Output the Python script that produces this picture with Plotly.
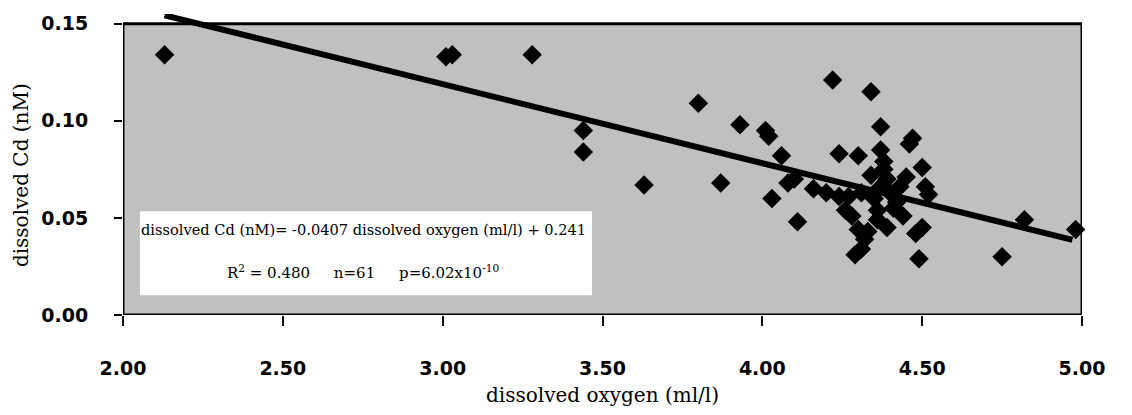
import plotly.graph_objects as go

# Dissolved oxygen (ml/l) and dissolved Cd (nM) for each sample
oxygen = [2.13, 3.01, 3.03, 3.28, 3.44, 3.44, 3.63, 3.80, 3.87, 3.93,
          4.01, 4.02, 4.03, 4.06, 4.08, 4.10, 4.11, 4.16, 4.20, 4.22,
          4.24, 4.30, 4.24, 4.27, 4.26, 4.28, 4.30, 4.29, 4.31, 4.34,
          4.37, 4.37, 4.33, 4.35, 4.36, 4.36, 4.39, 4.38, 4.37, 4.40,
          4.43, 4.44, 4.42, 4.46, 4.47, 4.50, 4.51, 4.52, 4.48, 4.49,
          4.50, 4.75, 4.82, 4.98, 4.38, 4.34, 4.41, 4.31, 4.45, 4.32,
          4.39]
cadmium = [0.134, 0.133, 0.134, 0.134, 0.095, 0.084, 0.067, 0.109, 0.068, 0.098,
           0.095, 0.092, 0.060, 0.082, 0.068, 0.070, 0.048, 0.065, 0.063, 0.121,
           0.083, 0.082, 0.061, 0.061, 0.054, 0.051, 0.044, 0.031, 0.034, 0.115,
           0.097, 0.085, 0.043, 0.060, 0.049, 0.054, 0.070, 0.075, 0.066, 0.063,
           0.066, 0.051, 0.058, 0.088, 0.091, 0.076, 0.066, 0.062, 0.042, 0.029,
           0.045, 0.030, 0.049, 0.044, 0.079, 0.072, 0.055, 0.063, 0.071, 0.039,
           0.045]

# Linear regression results
slope = -0.0407
intercept = 0.241
r_squared = 0.480
n_samples = 61
p_mantissa = 6.02
p_exponent = -10
fit_x = [2.13, 4.97]

x_ticks = [2.0, 2.5, 3.0, 3.5, 4.0, 4.5, 5.0]
x_tick_labels = ["2.00", "2.50", "3.00", "3.50", "4.00", "4.50", "5.00"]
y_ticks = [0.0, 0.05, 0.10, 0.15]
y_tick_labels = ["0.00", "0.05", "0.10", "0.15"]

fit_y = [slope * x + intercept for x in fit_x]

label_font = "DejaVu Sans"
text_font = "DejaVu Serif"
gap = "\u00a0" * 5

fig = go.Figure()

fig.add_trace(go.Scatter(
    x=fit_x, y=fit_y, mode="lines",
    line=dict(color="black", width=6),
    showlegend=False, hoverinfo="skip",
))

fig.add_trace(go.Scatter(
    x=oxygen, y=cadmium, mode="markers",
    marker=dict(symbol="diamond", size=15, color="black",
                line=dict(width=0)),
    cliponaxis=False, showlegend=False,
))

# Shaded plotting frame (0..0.15) and white box for the regression statistics
fig.add_shape(type="rect", xref="x", yref="y",
              x0=x_ticks[0], x1=x_ticks[-1], y0=y_ticks[0], y1=y_ticks[-1],
              fillcolor="#c0c0c0", line=dict(color="black", width=3),
              layer="below")
fig.add_shape(type="rect", xref="x", yref="y",
              x0=2.053, x1=3.467, y0=0.0102, y1=0.0534,
              fillcolor="white", line=dict(width=0), layer="below")

eq_text = (f"dissolved Cd (nM)= {slope:.4f} dissolved oxygen (ml/l) + {intercept:.3f}")
stats_text = (f"R<sup>2</sup> = {r_squared:.3f}{gap}n={n_samples}"
              f"{gap}p={p_mantissa:.2f}x10<sup>{p_exponent}</sup>")

fig.add_annotation(x=2.751, y=0.0442, xref="x", yref="y", text=eq_text,
                   showarrow=False, font=dict(family=text_font, size=14.6, color="black"))
fig.add_annotation(x=2.751, y=0.0224, xref="x", yref="y", text=stats_text,
                   showarrow=False, font=dict(family=text_font, size=15, color="black"))

# Vertical axis title
fig.add_annotation(x=-0.107, y=0.466, xref="paper", yref="paper",
                   text="dissolved Cd (nM)", textangle=-90, showarrow=False,
                   xanchor="center", yanchor="middle",
                   font=dict(family=text_font, size=20, color="black"))

fig.update_layout(
    width=1132, height=415,
    margin=dict(l=123, r=50, t=12, b=98),
    paper_bgcolor="white", plot_bgcolor="white",
    xaxis=dict(
        range=[2.0, 5.0], tickvals=x_ticks, ticktext=x_tick_labels,
        ticks="outside", ticklen=10, tickwidth=2, tickcolor="black",
        showline=False, showgrid=False, zeroline=False,
        ticklabelstandoff=26,
        tickfont=dict(family=label_font, size=19, color="black", weight="bold"),
        title=dict(text="dissolved oxygen (ml/l)", standoff=10,
                   font=dict(family=text_font, size=20, color="black")),
    ),
    yaxis=dict(
        range=[0.0, 0.155], tickvals=y_ticks, ticktext=y_tick_labels,
        ticks="outside", ticklen=8, tickwidth=2, tickcolor="black",
        showline=False, showgrid=False, zeroline=False,
        ticklabelstandoff=22,
        tickfont=dict(family=label_font, size=19, color="black", weight="bold"),
    ),
)

fig.write_html("out.html")
